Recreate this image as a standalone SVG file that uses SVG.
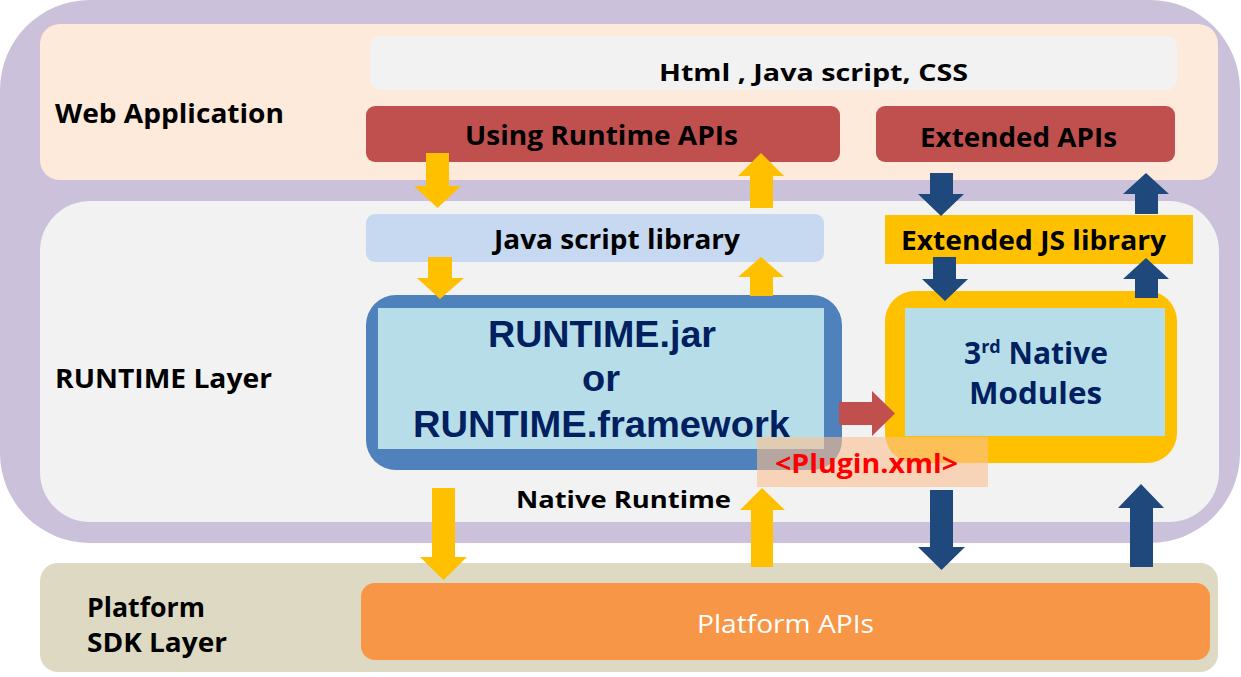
<svg xmlns="http://www.w3.org/2000/svg" width="1241" height="677" viewBox="0 0 1241 677">
<defs>
<style>
.t{font-family:"Open Sans","Liberation Sans",sans-serif;font-weight:bold;fill:#000}
.nv{font-family:"Open Sans","Liberation Sans",sans-serif;font-weight:bold;fill:#002060}
.nl{font-family:"Liberation Sans",Arial,sans-serif;font-weight:bold;fill:#002060}
.ya{fill:#FFC000}
.ba{fill:#1F497D}
.red{fill:#C0504D}
</style>
</defs>
<rect width="1241" height="677" fill="#FFFFFF"/>
<g id="outer-frame">
<rect x="0" y="0" width="1240" height="543" rx="90" ry="90" fill="#CCC1DA"/>
</g>
<g id="web-application">
<rect x="40" y="24" width="1178" height="156" rx="20" fill="#FDEADA"/>
<text class="t" x="55" y="123" font-size="27" textLength="229" lengthAdjust="spacingAndGlyphs">Web Application</text>
</g>
<g id="runtime-layer">
<rect x="40" y="201" width="1179" height="321" rx="50" fill="#F2F2F2"/>
<text class="t" x="55" y="388" font-size="26" textLength="217" lengthAdjust="spacingAndGlyphs">RUNTIME Layer</text>
</g>
<g id="platform-sdk-layer">
<rect x="40" y="563" width="1178" height="109" rx="18" fill="#DDD9C3"/>
<text class="t" x="87" y="617" font-size="26" textLength="118" lengthAdjust="spacingAndGlyphs">Platform</text>
<text class="t" x="87" y="652" font-size="26" textLength="140" lengthAdjust="spacingAndGlyphs">SDK Layer</text>
</g>
<g id="html-js-css">
<rect x="370" y="36" width="807" height="54" rx="10" fill="#F2F2F2"/>
<text class="t" x="659" y="81" font-size="24" textLength="309" lengthAdjust="spacingAndGlyphs">Html , Java script, CSS</text>
</g>
<g id="using-runtime-apis">
<rect x="366" y="106" width="474" height="56" rx="9" fill="#C0504D"/>
<text class="t" x="465" y="145" font-size="26" textLength="273" lengthAdjust="spacingAndGlyphs">Using Runtime APIs</text>
</g>
<g id="extended-apis">
<rect x="876" y="106" width="299" height="56" rx="9" fill="#C0504D"/>
<text class="t" x="920" y="147" font-size="26" textLength="197" lengthAdjust="spacingAndGlyphs">Extended APIs</text>
</g>
<g id="java-script-library">
<rect x="366" y="214" width="458" height="48" rx="9" fill="#C6D9F1"/>
<text class="t" x="494" y="249" font-size="26" textLength="246" lengthAdjust="spacingAndGlyphs">Java script library</text>
</g>
<g id="extended-js-library">
<rect x="885" y="215" width="308" height="49" fill="#FFC000"/>
<text class="t" x="901" y="250" font-size="26" textLength="265" lengthAdjust="spacingAndGlyphs">Extended JS library</text>
</g>
<g id="runtime-jar">
<rect x="366" y="295" width="476" height="175" rx="30" fill="#4F81BD"/>
<rect x="378" y="308" width="446" height="141" fill="#B7DEE8"/>
<text class="nl" x="488" y="347" font-size="36" textLength="228" lengthAdjust="spacingAndGlyphs">RUNTIME.jar</text>
<text class="nl" x="582" y="391" font-size="36" textLength="38" lengthAdjust="spacingAndGlyphs">or</text>
<text class="nl" x="413" y="437" font-size="36" textLength="377" lengthAdjust="spacingAndGlyphs">RUNTIME.framework</text>
</g>
<g id="native-modules">
<rect x="885" y="291" width="292" height="172" rx="30" fill="#FFC000"/>
<rect x="905" y="308" width="260" height="128" fill="#B7DEE8"/>
<text class="nv" x="1036" y="364" font-size="30" text-anchor="middle">3<tspan font-size="18" dy="-11">rd</tspan><tspan dy="11"> Native</tspan></text>
<text class="nv" x="969" y="404" font-size="30" textLength="133" lengthAdjust="spacingAndGlyphs">Modules</text>
</g>
<g id="platform-apis">
<rect x="361" y="583" width="849" height="77" rx="14" fill="#F79646"/>
<text x="697" y="633" font-size="26" textLength="177" lengthAdjust="spacingAndGlyphs" fill="#FFFFFF" font-family="Open Sans, Liberation Sans, sans-serif">Platform APIs</text>
</g>
<g id="native-runtime-label">
<text class="t" x="516" y="508" font-size="24" textLength="215" lengthAdjust="spacingAndGlyphs">Native Runtime</text>
</g>
<g id="connectors">
<polygon class="ya" points="426,153 449,153 449,186 461,186 437.5,208 414,186 426,186"/>
<polygon class="ya" points="750,208 773,208 773,176 784,176 761,153 738,176 750,176"/>
<polygon class="ya" points="428,257 452,257 452,278 464,278 440,299 417,278 428,278"/>
<polygon class="ya" points="750,296 773,296 773,277 784,277 761,257 738,277 750,277"/>
<polygon class="ya" points="432,488 455,488 455,557 467,557 443.5,580 420,557 432,557"/>
<polygon class="ya" points="751,567 773,567 773,510 785,510 762,488 740,510 751,510"/>
<polygon class="ba" points="930,173 953,173 953,194 964,194 941,216 918,194 930,194"/>
<polygon class="ba" points="1135,214 1158,214 1158,194 1169,194 1146,173 1123,194 1135,194"/>
<polygon class="ba" points="933,257 956,257 956,279 968,279 945,301 922,279 933,279"/>
<polygon class="ba" points="1135,298 1158,298 1158,279 1169,279 1146,258 1123,279 1135,279"/>
<polygon class="ba" points="930,490 953,490 953,547 965,547 941.5,570 918,547 930,547"/>
<polygon class="ba" points="1130,567 1153,567 1153,508 1164,508 1141,484 1118,508 1130,508"/>
<polygon class="red" points="839,402 872,402 872,391 895,413.5 872,436 872,425 839,425"/>
</g>
<g id="plugin-xml">
<rect x="757" y="437" width="231" height="50" fill="#FAC090" fill-opacity="0.6"/>
<text x="775" y="473" font-size="27" textLength="183" lengthAdjust="spacingAndGlyphs" fill="#FF0000" font-weight="bold" font-family="Open Sans, Liberation Sans, sans-serif">&lt;Plugin.xml&gt;</text>
</g>
</svg>
